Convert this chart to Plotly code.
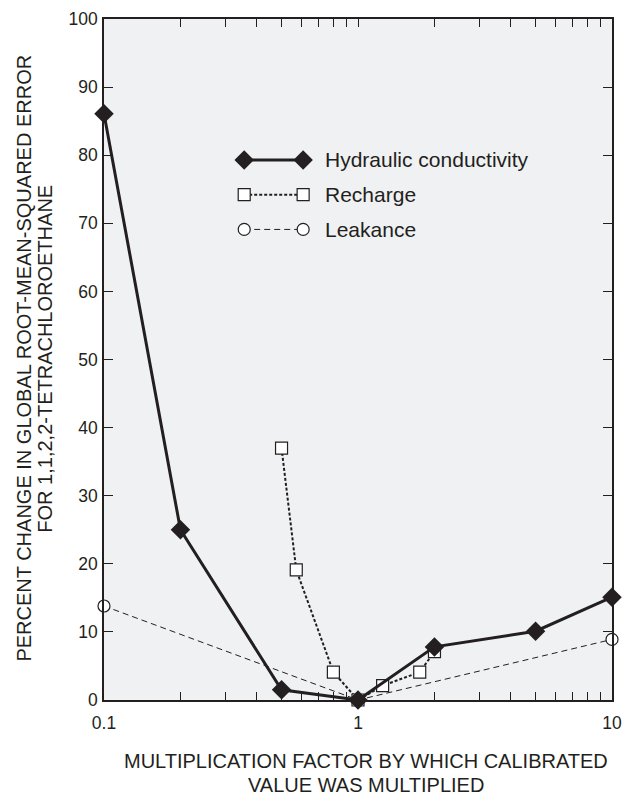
import plotly.graph_objects as go

# Data
hc_x = [0.1, 0.2, 0.5, 1, 2, 5, 10]
hc_y = [86.1, 25.0, 1.5, 0.0, 7.8, 10.1, 15.1]

rch_x = [0.5, 0.5714, 0.8, 1, 1.25, 1.75, 2]
rch_y = [37.0, 19.1, 4.1, 0.0, 2.1, 4.1, 7.1]

lk_x = [0.1, 1, 10]
lk_y = [13.8, 0.0, 8.9]

series_names = ["Hydraulic conductivity", "Recharge", "Leakance"]
y_ticks = list(range(0, 101, 10))
x_ticks = [0.1, 1, 10]
x_tick_text = ["0.1", "1", "10"]
x_minor = [0.2, 0.3, 0.4, 0.5, 0.6, 0.7, 0.8, 0.9, 2, 3, 4, 5, 6, 7, 8, 9]

INK = "#231f20"
FONT = "Liberation Sans"

HC_STYLE = dict(line=dict(color=INK, width=3),
                marker=dict(symbol="diamond", size=15, color=INK, line=dict(color=INK, width=0)))
RCH_STYLE = dict(line=dict(color=INK, width=2, dash="3px,2px"),
                 marker=dict(symbol="square", size=12, color="white", line=dict(color=INK, width=1.2)))
LK_STYLE = dict(line=dict(color=INK, width=1, dash="6px,4px"),
                marker=dict(symbol="circle", size=12, color="white", line=dict(color=INK, width=1.2)))

fig = go.Figure()

fig.add_trace(go.Scatter(x=lk_x, y=lk_y, mode="lines+markers", showlegend=False,
                         cliponaxis=False, **LK_STYLE))
fig.add_trace(go.Scatter(x=rch_x, y=rch_y, mode="lines+markers", showlegend=False,
                         cliponaxis=False, **RCH_STYLE))
fig.add_trace(go.Scatter(x=hc_x, y=hc_y, mode="lines+markers", showlegend=False,
                         cliponaxis=False, **HC_STYLE))

# Custom legend samples on an overlay axis (0..1 fractions of plot area)
leg_x = [0.276, 0.392]
leg_rows = [0.793, 0.742, 0.691]
for name, yy, st in zip(series_names, leg_rows, [HC_STYLE, RCH_STYLE, LK_STYLE]):
    fig.add_trace(go.Scatter(x=leg_x, y=[yy, yy], mode="lines+markers", xaxis="x2", yaxis="y2",
                             showlegend=False, hoverinfo="skip", cliponaxis=False, **st))
    fig.add_annotation(x=0.4305, y=yy, xref="x2", yref="y2", text=name, showarrow=False,
                       xanchor="left", yanchor="middle", font=dict(family=FONT, size=21, color=INK))

fig.update_layout(
    width=631, height=795,
    margin=dict(l=104, r=9, t=18, b=95),
    paper_bgcolor="white", plot_bgcolor="#f0f1f3",
    font=dict(family=FONT, size=16, color=INK),
    showlegend=False,
    xaxis=dict(
        type="log", range=[-1, 1], tickmode="array", tickvals=x_ticks, ticktext=x_tick_text,
        ticks="inside", ticklen=8, tickwidth=1.2, tickcolor=INK, ticklabelstandoff=6,
        showline=True, linecolor=INK, linewidth=1.5, mirror="allticks",
        showgrid=False, zeroline=False,
        tickfont=dict(family=FONT, size=17.5, color=INK),
        minor=dict(tickmode="array", tickvals=x_minor, ticks="inside", ticklen=8,
                   tickwidth=1.2, tickcolor=INK, showgrid=False),
    ),
    yaxis=dict(
        range=[0, 100], tickmode="array", tickvals=y_ticks,
        ticks="inside", ticklen=9, tickwidth=1.2, tickcolor=INK, ticklabelstandoff=1,
        showline=True, linecolor=INK, linewidth=1.5, mirror="allticks",
        showgrid=False, zeroline=False,
        tickfont=dict(family=FONT, size=17.5, color=INK),
    ),
    xaxis2=dict(overlaying="x", range=[0, 1], visible=False),
    yaxis2=dict(overlaying="y", range=[0, 1], visible=False),
)

# X-axis title, two lines
fig.add_annotation(
    xref="paper", yref="paper", x=(371 - 104) / 518, y=(700 - 761) / 682,
    xanchor="center", yanchor="middle",
    text="MULTIPLICATION FACTOR BY WHICH CALIBRATED",
    showarrow=False, font=dict(family=FONT, size=20, color=INK),
)
fig.add_annotation(
    xref="paper", yref="paper", x=(371 - 104) / 518, y=(700 - 785) / 682,
    xanchor="center", yanchor="middle",
    text="VALUE WAS MULTIPLIED",
    showarrow=False, font=dict(family=FONT, size=20, color=INK),
)
# Y-axis title, two lines
fig.add_annotation(
    xref="paper", yref="paper", x=(21.5 - 104) / 518, y=(700 - 358) / 682,
    xanchor="center", yanchor="middle", textangle=-90,
    text="PERCENT CHANGE IN GLOBAL ROOT-MEAN-SQUARED ERROR",
    showarrow=False, font=dict(family=FONT, size=20, color=INK),
)
fig.add_annotation(
    xref="paper", yref="paper", x=(43 - 104) / 518, y=(700 - 358) / 682,
    xanchor="center", yanchor="middle", textangle=-90,
    text="FOR 1,1,2,2-TETRACHLOROETHANE",
    showarrow=False, font=dict(family=FONT, size=20, color=INK),
)

fig.write_html("out.html")
